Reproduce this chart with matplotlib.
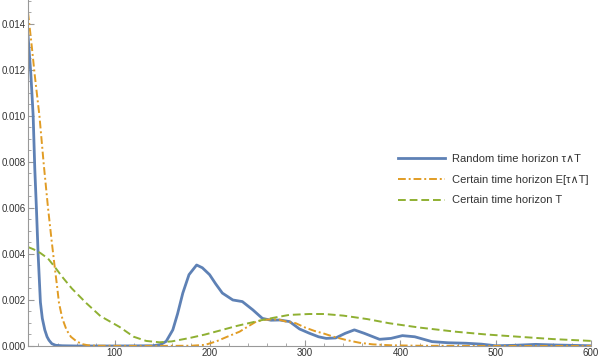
import matplotlib.pyplot as plt
from matplotlib.ticker import MultipleLocator, FormatStrFormatter

plt.rcParams['font.family'] = ['Liberation Sans', 'DejaVu Sans']

# Density curves
blue_x = [9, 12, 14.4, 16.1, 17.8, 19.6, 22, 24, 26.6, 29, 31, 34, 38, 45, 60, 100, 140, 148,
          154, 161, 166, 171.5, 178, 186, 192, 199.6, 206, 213, 224, 234, 245, 255, 264, 273,
          283.6, 294, 304, 314, 322, 332, 342, 351.6, 362, 378, 390, 402, 415, 433, 450,
          468.6, 485, 500, 520, 542, 565, 600]
blue_y = [0.0135, 0.0118, 0.0100, 0.0077, 0.0060, 0.0040, 0.0019, 0.0012, 0.0007, 0.0004,
          0.00025, 0.0001, 0.00003, 0.00001, 0, 0, 0.00001, 0.00006, 0.0002, 0.0007, 0.0014,
          0.0023, 0.0031, 0.00352, 0.0034, 0.0031, 0.0027, 0.0023, 0.0020, 0.00193, 0.00157,
          0.0012, 0.00112, 0.00113, 0.00106, 0.00074, 0.00056, 0.0004, 0.00033, 0.00035,
          0.00055, 0.0007, 0.00055, 0.00029, 0.00033, 0.00045, 0.0004, 0.00019, 0.00014,
          0.00012, 0.00008, 0.00001, 0.00003, 0.00007, 0.00004, 0.00001]

orange_x = [9, 13, 16, 21, 25.5, 30, 34, 37, 39.5, 41.5, 45, 49.4, 54, 60, 66, 72, 80, 120,
            180, 195, 206.6, 218, 231, 240, 248.5, 257, 266, 273, 280, 290, 300, 310, 318,
            330, 343, 357, 371, 390, 420, 500, 600]
orange_y = [0.0145, 0.0130, 0.0118, 0.0100, 0.0079, 0.0060, 0.0045, 0.00344, 0.0026,
            0.00187, 0.0012, 0.0007, 0.0004, 0.0002, 0.00008, 0.00003, 0.00001, 0, 0.00001,
            0.00005, 0.0002, 0.0004, 0.00062, 0.00085, 0.00106, 0.00114, 0.00116, 0.00114,
            0.00106, 0.00099, 0.0008, 0.00065, 0.00056, 0.0004, 0.00026, 0.00014, 0.00007,
            0.00003, 0.00001, 0, 0]

green_x = [9, 15, 22, 30, 37, 45, 55, 70, 85, 105, 120, 133, 147, 160, 179, 195, 213, 228,
           241.5, 254, 266, 283, 304, 320, 340, 365, 388, 420, 458, 490, 528, 560, 600]
green_y = [0.0043, 0.0042, 0.00404, 0.0038, 0.00344, 0.0030, 0.0025, 0.00187, 0.0013,
           0.00083, 0.0004, 0.00022, 0.00016, 0.0002, 0.00035, 0.0005, 0.0007, 0.00087,
           0.0010, 0.00112, 0.00122, 0.00135, 0.00139, 0.00139, 0.00132, 0.00117, 0.00099,
           0.0008, 0.00062, 0.0005, 0.00039, 0.0003, 0.00022]

labels = ['Random time horizon τ∧T', 'Certain time horizon E[τ∧T]', 'Certain time horizon T']

fig = plt.figure(figsize=(6, 3.61), dpi=100)
ax = fig.add_axes([0.0467, 0.0416, 0.9383, 0.9584])

ax.plot(blue_x, blue_y, color='#5E81B5', lw=2, label=labels[0])
ax.plot(orange_x, orange_y, color='#E19C24', lw=1.4, dashes=(4, 1.5, 1, 1.5), label=labels[1])
ax.plot(green_x, green_y, color='#8FB032', lw=1.4, dashes=(4, 2), label=labels[2])

ax.set_xlim(9, 600)
ax.set_ylim(0, 0.01504)
ax.xaxis.set_major_locator(MultipleLocator(100))
ax.xaxis.set_minor_locator(MultipleLocator(20))
ax.yaxis.set_major_locator(MultipleLocator(0.002))
ax.yaxis.set_minor_locator(MultipleLocator(0.0005))
ax.yaxis.set_major_formatter(FormatStrFormatter('%.3f'))

for side in ['top', 'right']:
    ax.spines[side].set_visible(False)
for side in ['left', 'bottom']:
    ax.spines[side].set_color('#999999')
ax.tick_params(which='both', direction='in', color='#999999', labelsize=7,
               labelcolor='#333333', pad=1.5)
ax.tick_params(which='major', length=4)
ax.tick_params(which='minor', length=2)

ax.legend(loc='center left', bbox_to_anchor=(0.64, 0.48), frameon=False, fontsize=8,
          handlelength=4.2, handletextpad=0.6, labelspacing=0.95, labelcolor='#333333')

fig.savefig('out.png', dpi=100)
